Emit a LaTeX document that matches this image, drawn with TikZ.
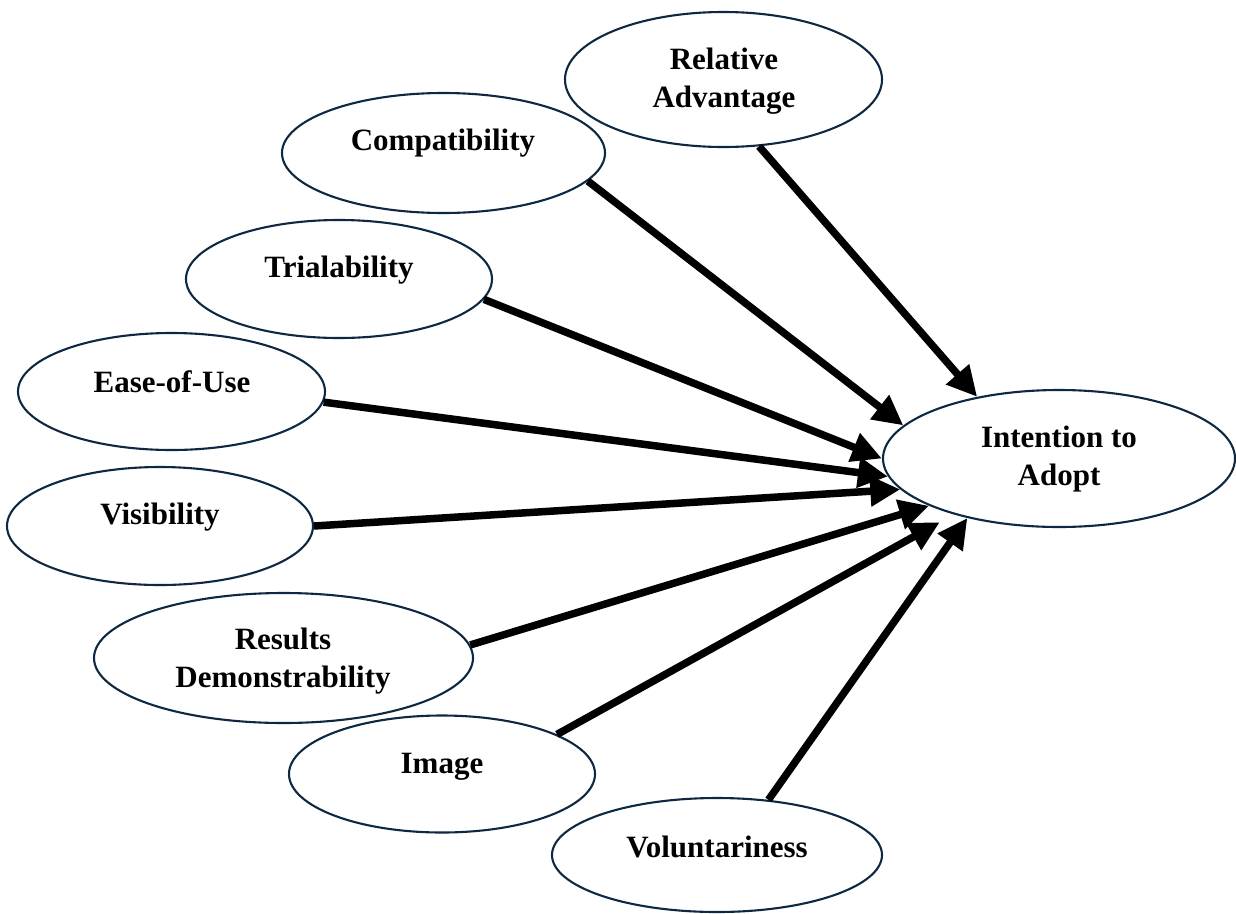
\documentclass[tikz,border=0pt]{standalone}
\usepackage{fontspec}
\setmainfont{Liberation Serif}
\usetikzlibrary{shapes.geometric,arrows.meta}
\definecolor{ovalline}{HTML}{0E2841}
\begin{document}
\begin{tikzpicture}[x=1pt,y=-1pt,
  oval/.style={ellipse, draw=ovalline, line width=2.1pt, inner sep=0pt},
  lbl/.style={font=\fontsize{31}{38}\selectfont\bfseries, align=center, inner sep=0pt},
  link/.style={line width=7.5pt, -{Triangle[length=30pt,width=29pt]}}]
\useasboundingbox (0,0) rectangle (1236,913);

% construct ovals
\node[oval, minimum width=317pt, minimum height=135pt] (ra)   at (723.5,79.5) {};
\node[oval, minimum width=323pt, minimum height=120pt] (comp) at (443.5,153) {};
\node[oval, minimum width=306pt, minimum height=118pt] (tri)  at (339,279) {};
\node[oval, minimum width=307pt, minimum height=117pt] (ease) at (171.5,391.5) {};
\node[oval, minimum width=306pt, minimum height=118pt] (vis)  at (160,526) {};
\node[oval, minimum width=379pt, minimum height=130pt] (res)  at (283.5,658) {};
\node[oval, minimum width=306pt, minimum height=117pt] (img)  at (442,774) {};
\node[oval, minimum width=330pt, minimum height=114pt] (vol)  at (717,855) {};
\node[oval, minimum width=352pt, minimum height=137pt] (ita)  at (1059,458.5) {};

% labels
\node[lbl] (ra-t)   at (724,81)   {Relative\\Advantage};
\node[lbl] (comp-t) at (443,143)  {Compatibility};
\node[lbl] (tri-t)  at (339,270)  {Trialability};
\node[lbl] (ease-t) at (172,382)  {Ease-of-Use};
\node[lbl] (vis-t)  at (160,517)  {Visibility};
\node[lbl] (res-t)  at (283,661)  {Results\\Demonstrability};
\node[lbl] (img-t)  at (442,767)  {Image};
\node[lbl] (vol-t)  at (717,847)  {Voluntariness};
\node[lbl] (ita-t)  at (1059,459) {Intention to\\Adopt};

% paths into the outcome
\draw[link] (ra.-62)  -- (ita.143);
\draw[link] (comp.-11) -- (ita.168);
\draw[link] (tri.-8)  -- (ita.180);
\draw[link] (ease.-4) -- (ita.186.4);
\draw[link] (vis.0)   -- (ita.191.2);
\draw[link] (res.4.7) -- (ita.200.3);
\draw[link, shorten >=16pt] (img.19) -- (ita.208.4);
\draw[link] (vol.47.6) -- (ita.213.5);
\end{tikzpicture}
\end{document}
